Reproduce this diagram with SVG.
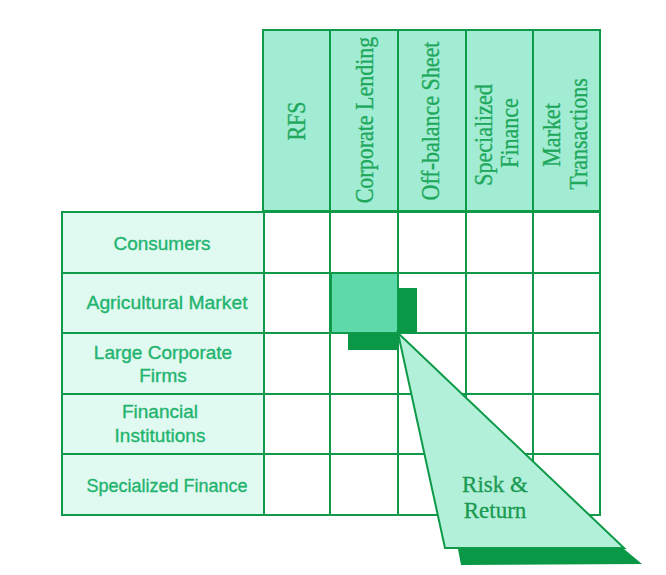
<svg xmlns="http://www.w3.org/2000/svg" width="666" height="575" viewBox="0 0 666 575">
<style>
.ln{stroke:#0e9a48;stroke-width:2;}
.hdr{fill:#a2ecd3;}
.lbl{fill:#e0f9f1;}
.cell{fill:#ffffff;}
.ht{font-family:"Liberation Serif","Times New Roman",serif;font-size:22px;fill:#1ea85c;stroke:#1ea85c;stroke-width:0.3;text-anchor:middle;}
.lt{font-family:"Liberation Sans",Arial,sans-serif;font-size:19px;fill:#22b46e;stroke:#22b46e;stroke-width:0.35;text-anchor:middle;}
.rt{font-family:"Liberation Serif","Times New Roman",serif;font-size:23px;fill:#1a9a50;stroke:#1a9a50;stroke-width:0.3;text-anchor:middle;}
.sh{fill:#0b9846;}
</style>
<rect width="666" height="575" fill="#ffffff"/>
<g id="header">
<g id="col-rfs"><rect class="hdr ln" x="263" y="30" width="67" height="181"/><text class="ht" transform="translate(305,121) rotate(-90) scale(1,1.15)">RFS</text></g>
<g id="col-corporate-lending"><rect class="hdr ln" x="330" y="30" width="68" height="181"/><text class="ht" transform="translate(373,120) rotate(-90) scale(1,1.15)">Corporate Lending</text></g>
<g id="col-off-balance"><rect class="hdr ln" x="398" y="30" width="68" height="181"/><text class="ht" transform="translate(439,121) rotate(-90) scale(1,1.15)">Off-balance Sheet</text></g>
<g id="col-specialized"><rect class="hdr ln" x="466" y="30" width="67" height="181"/><text class="ht" transform="translate(492,135) rotate(-90) scale(1,1.15)">Specialized</text><text class="ht" transform="translate(518,133) rotate(-90) scale(1,1.15)">Finance</text></g>
<g id="col-market"><rect class="hdr ln" x="533" y="30" width="67" height="181"/><text class="ht" transform="translate(560,135) rotate(-90) scale(1,1.15)">Market</text><text class="ht" transform="translate(587,134) rotate(-90) scale(1,1.15)">Transactions</text></g>
</g>
<g id="grid">
<rect class="cell ln" x="264" y="212" width="336" height="303"/>
<path class="ln" fill="none" d="M330 212V515M398 212V515M466 212V515M533 212V515M264 273H600M264 333H600M264 394H600M264 454H600"/>
</g>
<g id="rows">
<g id="row-consumers"><rect class="lbl ln" x="62" y="212" width="202" height="61"/><text class="lt" x="162" y="250">Consumers</text></g>
<g id="row-agricultural"><rect class="lbl ln" x="62" y="273" width="202" height="60"/><text class="lt" x="167" y="309" textLength="161" lengthAdjust="spacingAndGlyphs">Agricultural Market</text></g>
<g id="row-large-corporate"><rect class="lbl ln" x="62" y="333" width="202" height="61"/><text class="lt" x="163" y="359">Large Corporate</text><text class="lt" x="163" y="382">Firms</text></g>
<g id="row-financial"><rect class="lbl ln" x="62" y="394" width="202" height="60"/><text class="lt" x="160" y="418">Financial</text><text class="lt" x="160" y="442">Institutions</text></g>
<g id="row-specialized"><rect class="lbl ln" x="62" y="454" width="202" height="61"/><text class="lt" x="167" y="492" textLength="161" lengthAdjust="spacingAndGlyphs">Specialized Finance</text></g>
</g>
<g id="highlight">
<rect class="sh" x="348" y="333" width="50" height="17"/>
<rect class="sh" x="398" y="288" width="19" height="45"/>
<rect x="331" y="273" width="67" height="60" fill="#5ed9a9" stroke="#0e9a48" stroke-width="2"/>
</g>
<g id="connectors">
<polygon class="sh" points="458,549 624,549 642,564 461,565"/>
<polygon points="398,333 445,548 624,548" fill="#b2f0da" stroke="#0e9a48" stroke-width="2" stroke-linejoin="miter"/>
</g>
<g id="callout">
<text class="rt" x="495" y="492">Risk &amp;</text>
<text class="rt" x="495" y="518">Return</text>
</g>
</svg>
